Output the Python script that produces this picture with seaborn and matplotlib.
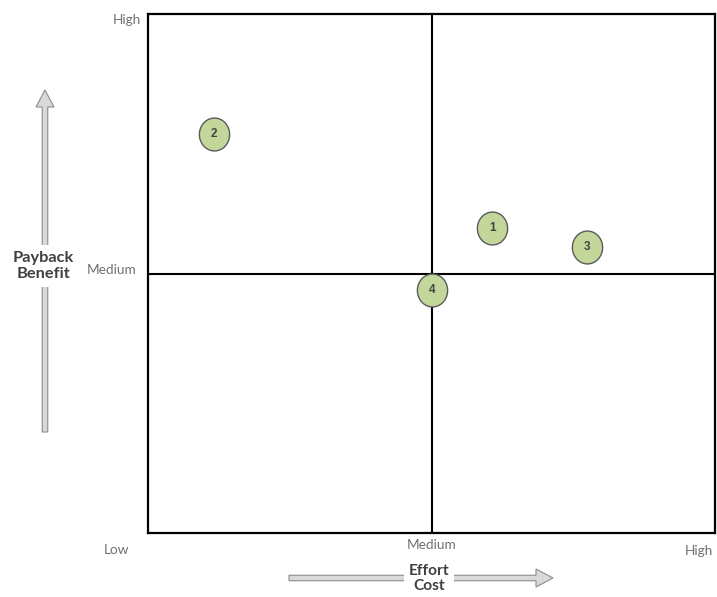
import matplotlib
matplotlib.use("Agg")
import matplotlib.pyplot as plt
import seaborn as sns
import pandas as pd
import numpy as np
from matplotlib.patches import FancyArrow
from matplotlib.path import Path

# ---- data ----
labels = ["1", "2", "3", "4"]
effort = [6.07, 1.16, 7.74, 5.01]      # x: Effort / Cost (0 = Low, 5 = Medium, 10 = High)
payback = [5.88, 7.69, 5.51, 4.68]     # y: Payback / Benefit
x_ticks = ["Low", "Medium", "High"]
y_ticks = ["Medium", "High"]

df = pd.DataFrame({"label": labels, "effort": effort, "payback": payback})

sns.set_theme(style="white")
plt.rcParams["font.family"] = ["Lato", "DejaVu Sans"]

fig = plt.figure(figsize=(7.17, 5.97), dpi=100)
ax = fig.add_axes([148 / 717, 64 / 597, 567 / 717, 519 / 597])
ax.set_xlim(0, 10)
ax.set_ylim(0, 10)

# quadrant lines
ax.axvline(5, color="black", lw=1.5, zorder=1)
ax.axhline(5, color="black", lw=1.5, zorder=1)

# slightly tall elliptical marker
th = np.linspace(0, 2 * np.pi, 73)
ell = Path(np.column_stack([0.92 * np.cos(th), np.sin(th)]), closed=True)

sns.scatterplot(data=df, x="effort", y="payback", ax=ax, s=560, color="#c4d79b", marker=ell,
                edgecolor="#5a5a5a", linewidth=1.0, zorder=3, legend=False, clip_on=False)
for lab, xv, yv in zip(df["label"], df["effort"], df["payback"]):
    ax.text(xv, yv, lab, ha="center", va="center", fontsize=8.5, fontweight="bold",
            color="#444444", zorder=4, family=["Liberation Sans", "DejaVu Sans"])

for s in ax.spines.values():
    s.set_color("black")
    s.set_linewidth(1.6)
ax.set_xticks([])
ax.set_yticks([])
ax.set_xlabel("")
ax.set_ylabel("")

lab_col = "#707070"
fs = 9.8
ax.text(-0.12, 9.88, y_ticks[1], ha="right", va="center", fontsize=fs, color=lab_col, clip_on=False)
ax.text(-0.2, 5.07, y_ticks[0], ha="right", va="center", fontsize=fs, color=lab_col, clip_on=False)
ax.text(-0.55, -0.33, x_ticks[0], ha="center", va="center", fontsize=fs, color=lab_col, clip_on=False)
ax.text(5.0, -0.23, x_ticks[1], ha="center", va="center", fontsize=fs, color=lab_col, clip_on=False)
ax.text(9.72, -0.35, x_ticks[2], ha="center", va="center", fontsize=fs, color=lab_col, clip_on=False)

# arrows (inches, 100 px per inch)
t = fig.dpi_scale_trans
fig.add_artist(FancyArrow(0.45, 1.65, 0, 3.25, width=0.055, head_width=0.18, head_length=0.17,
                          length_includes_head=False, transform=t, facecolor="#d9d9d9",
                          edgecolor="#8c8c8c", lw=0.8))
fig.add_artist(FancyArrow(2.89, 0.19, 2.47, 0, width=0.055, head_width=0.18, head_length=0.17,
                          length_includes_head=False, transform=t, facecolor="#d9d9d9",
                          edgecolor="#8c8c8c", lw=0.8))

fig.text(0.43, 3.31, "Payback\nBenefit", transform=t, ha="center", va="center", fontsize=11.8,
         fontweight="bold", color="#404040", linespacing=1.2,
         bbox=dict(facecolor="white", edgecolor="none", pad=4))
fig.text(4.29, 0.185, "Effort\nCost", transform=t, ha="center", va="center", fontsize=11.2,
         fontweight="bold", color="#404040", linespacing=1.15,
         bbox=dict(facecolor="white", edgecolor="none", pad=3))

fig.savefig("out.png", dpi=100)
